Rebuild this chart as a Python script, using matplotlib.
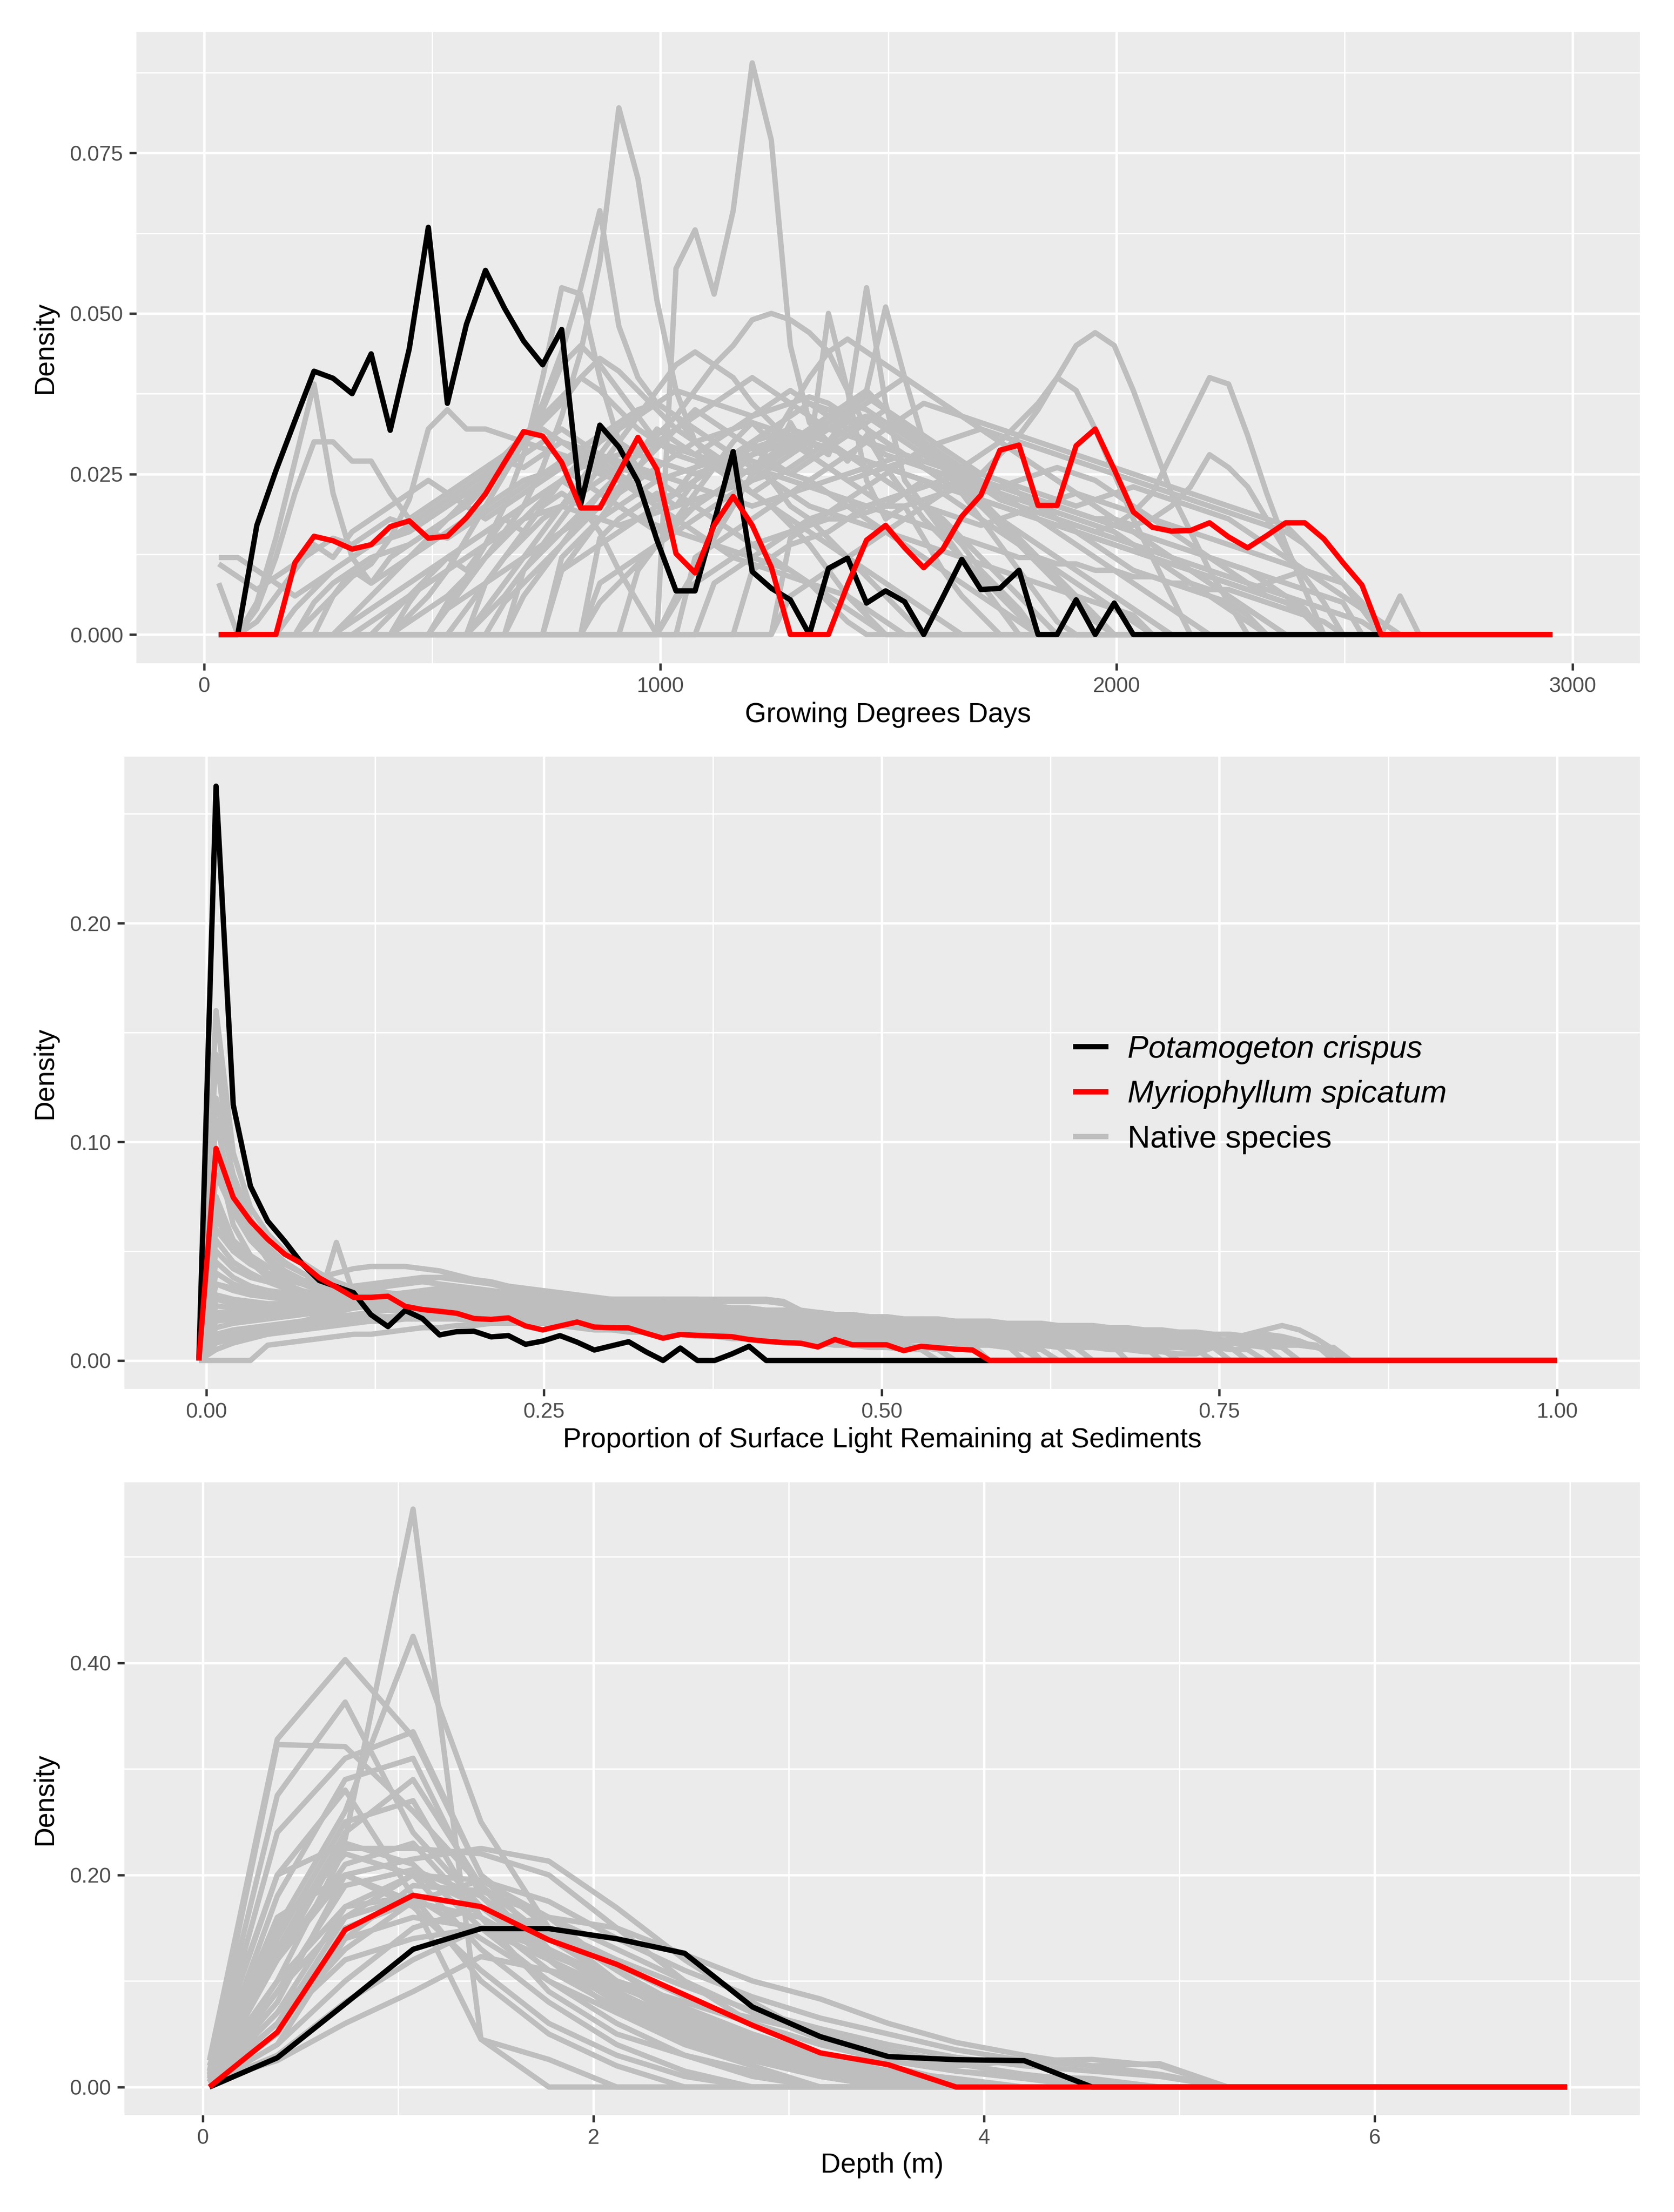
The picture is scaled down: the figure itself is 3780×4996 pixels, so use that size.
import numpy as np
import matplotlib
matplotlib.use('Agg')
import matplotlib.pyplot as plt

plt.rcParams['font.family'] = ['Liberation Sans', 'DejaVu Sans']

# ---------------- data: Growing Degree Days panel (density x 0.001) ----------------
gdd_x_range = (32, 2956)
gdd_n = 71
gdd_crispus = [0, 0, 17.0, 25.5, 33.3, 41.0, 39.9, 37.5, 43.7, 31.8, 44.5, 63.4, 36.0, 48.3, 56.7,
               50.8, 45.7, 42.0, 47.5, 20.3, 32.6, 29.2, 23.8, 14.7, 6.8, 6.8, 17.5, 28.5, 9.8, 7.2,
               5.4, 0, 10.3, 11.9, 4.9, 6.8, 5.1, 0, 5.8, 11.7, 7.0, 7.2, 10.0, 0, 0, 5.4, 0, 4.9, 0,
               0, 0, 0, 0, 0, 0, 0, 0, 0, 0, 0, 0, 0, 0, 0, 0, 0, 0, 0, 0, 0, 0]
gdd_spicatum = [0, 0, 0, 0, 11.2, 15.3, 14.6, 13.3, 14.0, 16.8, 17.7, 15.0, 15.3, 18.2, 21.9, 26.8,
                31.6, 30.9, 26.8, 19.7, 19.7, 25.2, 30.7, 25.7, 12.6, 9.6, 17.0, 21.5, 17.0, 10.5, 0,
                0, 0, 7.7, 14.7, 17.0, 13.5, 10.4, 13.3, 18.4, 21.7, 28.7, 29.5, 20.1, 20.1, 29.4,
                32.0, 25.7, 19.1, 16.7, 16.1, 16.2, 17.4, 15.2, 13.5, 15.4, 17.4, 17.4, 14.9, 11.2,
                7.7, 0, 0, 0, 0, 0, 0, 0, 0, 0, 0]
gdd_native_start = [14, 12, 10, 12, 16, 18, 20, 22, 24, 26, 30, 28, 0, 2, 5, 0, 0, 0, 13, 6, 4, 3,
                    8, 20, 10, 14, 18, 16, 24, 12, 8, 12, 15, 18, 6, 25, 5, 9, 30, 20]
gdd_native = [
    [8, 12, 16, 20, 22, 20, 16, 10, 5, 0, 57, 63, 53, 66, 89, 77, 45, 33, 30, 27, 31, 26, 22, 20, 17, 14, 10, 7, 4, 0],
    [4, 8, 12, 16, 20, 26, 34, 44, 58, 82, 71, 52, 38, 30, 27, 24, 22, 20, 17, 14, 10, 6, 3, 0],
    [3, 6, 10, 15, 20, 25, 30, 36, 44, 54, 66, 48, 40, 36, 34, 30, 28, 25, 22, 24, 20, 18, 15, 12, 9, 6, 3, 0],
    [5, 9, 14, 20, 28, 40, 54, 53, 40, 30, 26, 24, 22, 20, 18, 16, 14, 12, 10, 8, 5, 2, 0],
    [10, 13, 16, 19, 22, 25, 28, 31, 34, 38, 42, 45, 49, 50, 49, 47, 44, 38, 32, 26, 22, 18, 15, 12, 9, 6, 3, 0],
    [12, 15, 18, 20, 22, 24, 22, 26, 28, 25, 30, 27, 33, 28, 50, 38, 24, 18, 20, 15, 10, 6, 3, 0],
    [15, 18, 20, 22, 20, 24, 27, 25, 28, 30, 32, 30, 28, 35, 54, 36, 24, 20, 16, 12, 8, 4, 0],
    [10, 14, 18, 22, 26, 30, 33, 30, 28, 32, 30, 34, 38, 51, 40, 30, 26, 22, 18, 14, 10, 6, 2, 0],
    [6, 8, 10, 12, 14, 15, 16, 17, 18, 18, 19, 20, 20, 21, 22, 23, 25, 28, 31, 35, 40, 45, 47, 45, 38, 30, 22, 16, 10, 5, 0],
    [8, 10, 12, 14, 16, 18, 19, 20, 20, 21, 22, 23, 24, 26, 28, 30, 33, 36, 40, 38, 32, 25, 18, 12, 6, 0],
    [6, 8, 10, 12, 14, 16, 18, 20, 22, 24, 25, 24, 22, 20, 18, 17, 16, 17, 19, 22, 28, 34, 40, 39, 31, 22, 14, 7, 0],
    [10, 12, 14, 15, 16, 18, 20, 21, 22, 23, 24, 25, 24, 23, 22, 21, 20, 19, 18, 18, 17, 18, 20, 23, 28, 26, 23, 18, 13, 9, 5, 0],
    [0, 0, 5, 15, 27, 39, 22, 12, 8, 10, 12, 14, 16, 18, 20, 22, 24, 25, 26, 24, 22, 20, 18, 17, 16, 15, 14, 13, 12, 11, 10, 8, 6, 4, 2, 0],
    [4, 12, 22, 30, 30, 27, 27, 22, 18, 20, 22, 24, 26, 28, 30, 32, 30, 28, 26, 24, 22, 20, 22, 24, 26, 24, 22, 20, 18, 16, 14, 12, 10, 8, 6, 4, 2, 0],
    [3, 6, 9, 11, 15, 21, 32, 35, 32, 32, 31, 30, 29, 28, 27, 25, 24, 22, 20, 18, 16, 14, 12, 11, 10, 9, 8, 7, 6, 4, 2, 0],
    [12, 12, 10, 8, 6, 8, 10, 12, 14, 15, 16, 18, 20, 22, 24, 26, 28, 30, 32, 30, 28, 26, 25, 24, 25, 26, 27, 28, 27, 26, 25, 24, 22, 20, 18, 16, 14, 12, 10, 8, 6, 4, 2, 0],
    [11, 9, 7, 9, 11, 13, 15, 14, 16, 18, 17, 19, 21, 23, 25, 27, 26, 28, 30, 29, 27, 25, 23, 21, 22, 24, 26, 28, 30, 31, 32, 31, 30, 28, 26, 24, 22, 20, 18, 15, 12, 9, 6, 3, 0],
    [8, 0, 2, 6, 10, 14, 12, 16, 18, 20, 22, 24, 22, 20, 18, 20, 22, 24, 26, 28, 26, 24, 22, 20, 18, 20, 22, 24, 26, 28, 30, 28, 26, 24, 22, 20, 22, 24, 22, 20, 18, 16, 14, 12, 10, 8, 6, 4, 2, 0],
    [0, 4, 8, 12, 16, 20, 24, 28, 32, 34, 36, 34, 32, 30, 28, 30, 32, 34, 36, 35, 34, 32, 30, 28, 26, 24, 22, 20, 18, 16, 14, 12, 10, 8, 6, 4, 2, 0],
    [0, 3, 6, 9, 12, 15, 18, 21, 24, 27, 30, 33, 36, 40, 43, 41, 38, 35, 32, 30, 28, 26, 25, 27, 29, 31, 33, 35, 37, 35, 33, 30, 27, 24, 21, 18, 15, 12, 9, 6, 3, 0],
    [0, 5, 8, 10, 12, 13, 14, 16, 18, 20, 23, 26, 30, 35, 42, 45, 42, 38, 34, 30, 28, 27, 26, 27, 28, 29, 30, 31, 32, 33, 34, 33, 32, 30, 28, 26, 24, 22, 20, 18, 16, 14, 12, 10, 8, 6, 4, 2, 0],
    [0, 4, 7, 10, 12, 14, 15, 17, 19, 21, 23, 25, 28, 31, 34, 37, 40, 38, 35, 32, 30, 29, 28, 30, 32, 34, 36, 38, 36, 34, 32, 30, 28, 27, 26, 25, 24, 23, 22, 21, 20, 19, 18, 17, 16, 14, 12, 10, 8, 6, 4, 2, 0],
    [2, 4, 6, 8, 10, 12, 14, 16, 18, 19, 20, 19, 18, 17, 18, 19, 20, 21, 22, 23, 24, 25, 24, 23, 22, 21, 20, 19, 18, 17, 16, 15, 14, 13, 12, 12, 11, 11, 10, 10, 9, 9, 8, 8, 7, 7, 6, 5, 4, 3, 2, 0],
    [8, 10, 12, 14, 16, 18, 20, 22, 24, 26, 28, 30, 32, 34, 32, 30, 28, 26, 24, 22, 21, 20, 19, 18, 17, 16, 15, 14, 13, 12, 11, 10, 9, 8, 7, 8, 9, 10, 9, 8, 4, 0, 6, 0],
    [2, 4, 6, 9, 12, 15, 18, 21, 24, 27, 30, 32, 34, 36, 38, 37, 36, 35, 34, 35, 36, 37, 36, 34, 32, 30, 28, 26, 24, 22, 20, 18, 16, 14, 12, 10, 8, 6, 4, 2, 0],
    [3, 6, 10, 14, 18, 22, 26, 30, 34, 38, 42, 44, 42, 40, 36, 33, 30, 32, 34, 36, 38, 35, 32, 29, 26, 23, 20, 17, 14, 11, 8, 5, 2, 0],
    [10, 14, 18, 22, 26, 30, 32, 34, 36, 38, 40, 38, 36, 34, 32, 34, 36, 38, 40, 38, 36, 34, 32, 30, 28, 26, 24, 22, 20, 18, 16, 14, 12, 10, 8, 6, 4, 2, 0],
    [6, 10, 14, 18, 22, 20, 18, 16, 18, 20, 22, 24, 26, 28, 30, 32, 34, 36, 35, 33, 31, 29, 27, 25, 23, 21, 20, 19, 18, 17, 16, 15, 14, 13, 12, 11, 10, 9, 8, 7, 6, 5, 4, 3, 2, 0],
    [5, 10, 15, 20, 25, 30, 35, 40, 44, 46, 44, 42, 40, 38, 36, 34, 32, 30, 28, 26, 24, 22, 20, 18, 16, 14, 12, 10, 8, 6, 4, 2, 0],
    [4, 6, 8, 10, 12, 14, 16, 18, 20, 22, 24, 26, 28, 30, 31, 32, 33, 32, 31, 30, 29, 28, 27, 26, 25, 24, 23, 22, 21, 20, 19, 18, 17, 16, 15, 14, 13, 12, 11, 10, 9, 8, 7, 6, 5, 3, 0],
    [0, 3, 6, 9, 12, 14, 16, 18, 20, 22, 24, 26, 27, 28, 29, 30, 29, 28, 27, 28, 29, 30, 31, 30, 29, 28, 27, 26, 25, 24, 23, 22, 21, 20, 19, 18, 17, 16, 15, 14, 13, 12, 11, 10, 9, 8, 7, 6, 5, 4, 0],
    [0, 4, 8, 12, 15, 18, 20, 22, 24, 26, 28, 27, 26, 25, 26, 27, 28, 29, 30, 31, 32, 31, 30, 29, 28, 27, 26, 25, 24, 23, 22, 21, 20, 19, 18, 17, 16, 15, 14, 13, 12, 11, 10, 9, 8, 7, 6, 5, 0],
    [5, 8, 11, 14, 17, 20, 23, 26, 29, 32, 35, 33, 31, 29, 27, 25, 27, 29, 31, 33, 35, 33, 31, 29, 27, 25, 24, 23, 22, 21, 20, 21, 22, 23, 22, 21, 20, 19, 18, 16, 14, 12, 10, 8, 6, 4, 0],
    [10, 12, 14, 16, 18, 20, 22, 24, 26, 24, 22, 24, 26, 28, 30, 32, 34, 32, 30, 28, 26, 24, 22, 23, 24, 25, 26, 25, 24, 22, 20, 18, 16, 14, 12, 10, 8, 6, 5, 4, 0],
    [0, 2, 4, 6, 8, 10, 12, 14, 16, 18, 20, 22, 24, 26, 28, 27, 26, 25, 24, 23, 22, 21, 20, 21, 22, 23, 24, 25, 26, 27, 28, 27, 26, 25, 24, 23, 22, 21, 20, 19, 18, 17, 16, 15, 14, 13, 12, 11, 10, 8, 6, 4, 0],
    [12, 14, 16, 18, 20, 22, 24, 26, 28, 30, 32, 34, 36, 35, 34, 33, 32, 31, 30, 29, 28, 27, 26, 25, 24, 23, 22, 21, 20, 19, 18, 17, 14, 11, 8, 5, 0],
    [0, 6, 10, 8, 12, 14, 16, 15, 17, 19, 21, 23, 25, 27, 29, 31, 33, 35, 36, 34, 32, 30, 28, 26, 24, 22, 20, 19, 18, 17, 16, 15, 14, 13, 12, 11, 10, 9, 8, 7, 6, 5, 4, 3, 0],
    [0, 5, 9, 12, 10, 14, 18, 16, 20, 24, 22, 26, 30, 28, 32, 30, 28, 26, 28, 30, 32, 30, 28, 26, 24, 25, 26, 27, 28, 27, 26, 25, 24, 22, 20, 18, 16, 14, 12, 10, 9, 8, 7, 6, 5, 3, 0],
    [15, 17, 19, 21, 23, 25, 27, 29, 30, 31, 32, 31, 30, 29, 28, 27, 26, 25, 24, 23, 22, 21, 20, 19, 18, 17, 16, 14, 11, 8, 5, 0],
    [5, 8, 11, 14, 17, 20, 22, 24, 26, 28, 30, 32, 30, 28, 26, 24, 22, 20, 19, 18, 17, 18, 19, 20, 21, 22, 21, 20, 19, 18, 17, 16, 15, 14, 13, 12, 11, 10, 8, 6, 4, 2, 0],
]

# ---------------- data: light panel (density x 0.001) ----------------
light_x_range = (-0.0055, 1.0)
light_n = 80
light_crispus = [0, 262.7, 116.9, 79.7, 63.8, 54.5, 44.3, 36.6, 33.8, 31.0, 21.0, 15.5, 22.9, 19.2,
                 11.7, 13.2, 13.4, 10.8, 11.4, 7.4, 8.9, 11.4, 8.4, 4.8, 6.7, 8.6, 4.0, 0, 5.7, 0, 0,
                 3.0, 6.5, 0]
light_spicatum = [0, 97.0, 74.6, 63.8, 55.5, 48.6, 44.3, 37.8, 33.5, 28.9, 28.9, 29.4, 24.8, 23.3,
                  22.5, 21.6, 19.2, 18.8, 19.5, 15.8, 14.0, 15.8, 17.6, 15.3, 15.0, 14.9, 12.5, 10.2,
                  11.9, 11.5, 11.2, 10.9, 9.6, 8.8, 8.2, 7.9, 6.2, 9.6, 7.2, 7.2, 7.2, 4.5, 6.5, 5.8,
                  5.2, 4.8, 0]
light_native = [
    [0, 160, 95, 70, 58, 50, 45, 40, 36, 33, 31, 29, 28, 27, 26, 25, 24, 23, 22, 22, 21, 21, 20, 20, 20, 19, 19, 18, 18, 17, 17, 16, 16, 15, 15, 14, 14, 13, 13, 12, 12, 11, 11, 10, 10, 9, 9, 8, 8, 7, 7, 6, 0],
    [0, 120, 85, 65, 52, 45, 40, 36, 33, 31, 30, 29, 28, 27, 27, 26, 26, 25, 25, 24, 24, 23, 23, 22, 22, 21, 21, 20, 20, 19, 19, 18, 18, 17, 17, 16, 16, 15, 15, 14, 14, 13, 13, 12, 12, 11, 11, 10, 10, 9, 9, 8, 8, 7, 7, 6, 0],
    [0, 110, 72, 60, 50, 44, 40, 37, 35, 33, 32, 31, 30, 30, 29, 29, 28, 28, 28, 27, 27, 27, 26, 26, 26, 25, 25, 25, 24, 24, 23, 22, 21, 20, 19, 18, 17, 16, 15, 14, 13, 12, 11, 10, 9, 8, 7, 6, 5, 0],
    [0, 85, 68, 55, 47, 41, 37, 34, 32, 30, 29, 28, 27, 26, 26, 25, 25, 24, 24, 23, 23, 22, 22, 21, 21, 20, 20, 19, 19, 18, 18, 17, 17, 16, 16, 15, 15, 14, 14, 13, 13, 12, 12, 11, 11, 10, 10, 9, 9, 8, 8, 7, 7, 6, 6, 5, 5, 0],
    [0, 70, 55, 48, 43, 39, 36, 34, 32, 31, 30, 29, 28, 28, 27, 27, 26, 26, 25, 25, 24, 24, 23, 23, 22, 22, 21, 21, 20, 20, 19, 19, 18, 18, 17, 17, 16, 16, 15, 15, 14, 14, 13, 13, 12, 12, 11, 11, 10, 10, 9, 9, 8, 8, 7, 7, 6, 6, 5, 0],
    [0, 60, 50, 44, 40, 38, 36, 35, 34, 34, 35, 36, 37, 38, 38, 37, 36, 35, 34, 33, 32, 31, 30, 29, 28, 27, 26, 25, 24, 23, 22, 21, 20, 19, 18, 17, 16, 15, 14, 13, 12, 11, 10, 9, 8, 7, 0],
    [0, 50, 42, 38, 36, 35, 36, 38, 40, 42, 43, 43, 43, 42, 41, 39, 37, 35, 33, 32, 31, 30, 29, 28, 28, 27, 27, 26, 26, 25, 25, 24, 24, 23, 23, 21, 20, 19, 18, 17, 16, 15, 14, 13, 12, 11, 10, 9, 8, 0],
    [0, 45, 38, 34, 32, 31, 30, 30, 29, 29, 29, 30, 31, 32, 33, 32, 31, 30, 29, 28, 27, 28, 29, 28, 27, 26, 27, 28, 27, 26, 25, 24, 23, 22, 21, 20, 19, 18, 17, 16, 16, 15, 15, 14, 14, 13, 13, 12, 12, 11, 11, 10, 10, 9, 9, 8, 8, 7, 7, 8, 10, 12, 14, 16, 14, 10, 5, 0],
    [0, 40, 35, 32, 30, 29, 28, 28, 54, 30, 29, 28, 27, 27, 26, 26, 25, 25, 24, 24, 23, 23, 22, 22, 21, 21, 20, 20, 19, 19, 18, 18, 17, 17, 16, 16, 15, 15, 14, 14, 13, 13, 12, 11, 10, 9, 8, 7, 6, 0],
    [0, 35, 32, 30, 29, 28, 28, 28, 28, 28, 28, 28, 28, 28, 28, 27, 27, 27, 27, 26, 26, 26, 26, 26, 25, 25, 25, 25, 24, 24, 24, 24, 23, 23, 22, 21, 20, 19, 18, 17, 16, 15, 14, 13, 12, 11, 10, 9, 8, 7, 6, 0],
    [0, 30, 28, 27, 26, 26, 26, 26, 26, 26, 26, 26, 26, 26, 25, 25, 25, 25, 25, 25, 24, 24, 24, 24, 24, 23, 23, 23, 23, 22, 22, 22, 21, 21, 20, 20, 19, 19, 18, 18, 17, 17, 16, 16, 15, 15, 14, 14, 13, 13, 12, 12, 11, 11, 10, 10, 9, 9, 8, 7, 6, 0],
    [0, 25, 24, 24, 24, 24, 24, 25, 25, 25, 26, 26, 26, 26, 26, 25, 25, 25, 25, 24, 24, 24, 24, 23, 23, 23, 23, 22, 22, 22, 22, 21, 21, 21, 20, 20, 19, 19, 18, 18, 17, 17, 16, 16, 15, 15, 14, 14, 13, 13, 12, 12, 11, 11, 10, 10, 9, 8, 7, 6, 0],
    [0, 20, 21, 22, 22, 23, 23, 24, 24, 25, 25, 25, 25, 25, 25, 25, 25, 24, 24, 24, 24, 24, 23, 23, 23, 23, 22, 22, 22, 22, 21, 21, 21, 20, 20, 20, 19, 19, 19, 18, 18, 17, 17, 16, 16, 15, 15, 14, 14, 13, 13, 12, 12, 11, 11, 10, 10, 9, 9, 8, 8, 7, 7, 6, 0],
    [0, 15, 17, 18, 19, 20, 21, 22, 23, 24, 25, 26, 27, 27, 27, 27, 27, 27, 26, 26, 26, 26, 25, 25, 25, 25, 24, 24, 24, 23, 23, 23, 22, 22, 22, 21, 21, 20, 20, 19, 19, 18, 18, 17, 17, 16, 16, 15, 15, 14, 14, 13, 13, 12, 12, 11, 11, 10, 10, 9, 9, 8, 8, 7, 7, 6, 6, 0],
    [0, 10, 12, 13, 14, 15, 16, 17, 18, 19, 19, 20, 20, 20, 20, 20, 20, 20, 20, 20, 20, 20, 20, 20, 20, 19, 19, 19, 19, 19, 18, 18, 18, 18, 17, 17, 17, 16, 16, 16, 15, 15, 14, 14, 13, 13, 12, 12, 11, 11, 10, 10, 9, 9, 8, 8, 7, 7, 6, 6, 5, 5, 0],
    [0, 0, 0, 0, 7, 8, 9, 10, 11, 12, 12, 13, 14, 15, 15, 16, 16, 17, 17, 17, 17, 17, 17, 17, 17, 17, 17, 16, 16, 16, 16, 15, 15, 15, 15, 14, 14, 14, 14, 13, 13, 13, 12, 12, 12, 11, 11, 11, 10, 10, 10, 9, 9, 8, 8, 7, 7, 6, 5, 0],
    [0, 65, 52, 45, 40, 37, 35, 33, 32, 31, 30, 29, 28, 27, 26, 25, 24, 23, 22, 21, 20, 19, 18, 17, 16, 15, 14, 13, 13, 12, 12, 11, 11, 10, 10, 9, 9, 8, 8, 7, 7, 6, 6, 5, 0],
    [0, 55, 45, 40, 36, 33, 31, 30, 29, 28, 27, 26, 25, 24, 23, 22, 21, 20, 19, 18, 17, 16, 15, 14, 14, 13, 13, 12, 12, 11, 11, 10, 10, 9, 9, 8, 8, 7, 7, 6, 6, 5, 5, 0],
    [0, 95, 62, 48, 40, 35, 32, 30, 28, 26, 24, 23, 22, 21, 20, 19, 19, 18, 18, 17, 17, 16, 16, 15, 15, 15, 14, 14, 14, 13, 13, 13, 12, 12, 12, 11, 11, 11, 10, 10, 10, 9, 9, 8, 8, 7, 7, 6, 6, 5, 0],
    [0, 140, 80, 58, 46, 40, 35, 32, 30, 28, 27, 26, 25, 24, 24, 23, 23, 22, 22, 21, 21, 20, 20, 19, 19, 18, 18, 17, 17, 16, 16, 15, 15, 14, 14, 13, 13, 12, 12, 11, 11, 10, 10, 9, 9, 8, 8, 7, 0],
    [0, 12, 14, 15, 16, 17, 18, 19, 20, 21, 22, 23, 24, 25, 26, 27, 28, 28, 28, 28, 28, 28, 28, 28, 28, 28, 28, 28, 28, 28, 28, 28, 28, 28, 27, 23, 22, 21, 20, 20, 19, 19, 18, 18, 17, 17, 16, 16, 15, 15, 15, 14, 14, 14, 13, 13, 12, 11, 10, 9, 8, 7, 6, 0],
    [0, 18, 19, 20, 21, 22, 24, 26, 28, 30, 32, 34, 36, 37, 38, 38, 37, 36, 34, 32, 30, 28, 27, 26, 26, 27, 27, 26, 26, 25, 25, 24, 24, 23, 23, 22, 22, 21, 21, 20, 20, 19, 19, 18, 18, 17, 17, 16, 16, 15, 15, 14, 14, 13, 13, 12, 12, 11, 11, 10, 9, 8, 7, 6, 0],
    [0, 8, 10, 12, 14, 16, 18, 20, 22, 24, 25, 26, 26, 26, 25, 25, 24, 24, 23, 23, 22, 22, 21, 21, 20, 20, 19, 19, 18, 18, 17, 17, 16, 16, 15, 15, 14, 14, 13, 13, 12, 12, 11, 11, 10, 10, 9, 9, 8, 8, 7, 6, 0],
    [0, 28, 26, 25, 24, 23, 22, 21, 21, 20, 20, 20, 19, 19, 19, 19, 18, 18, 18, 18, 17, 17, 17, 17, 16, 16, 16, 16, 15, 15, 15, 15, 14, 14, 14, 13, 13, 13, 12, 12, 12, 11, 11, 10, 10, 9, 9, 8, 8, 7, 7, 6, 6, 5, 5, 4, 4, 3, 3, 6, 9, 11, 12, 11, 9, 6, 3, 0],
    [0, 75, 55, 45, 38, 34, 31, 29, 27, 26, 25, 24, 23, 22, 21, 20, 20, 19, 19, 18, 18, 17, 17, 16, 16, 15, 15, 14, 14, 13, 13, 12, 12, 11, 11, 10, 10, 9, 9, 8, 8, 7, 6, 5, 0],
    [0, 22, 22, 23, 23, 24, 25, 26, 27, 28, 29, 30, 31, 31, 31, 30, 30, 29, 29, 28, 28, 28, 27, 27, 27, 26, 26, 26, 25, 25, 24, 24, 23, 23, 22, 22, 21, 21, 20, 20, 19, 19, 18, 18, 17, 17, 16, 16, 15, 15, 14, 14, 13, 13, 12, 12, 11, 11, 10, 10, 9, 9, 8, 8, 7, 6, 5, 0],
    [0, 5, 8, 10, 12, 13, 14, 15, 16, 17, 18, 18, 19, 19, 20, 20, 20, 20, 20, 20, 20, 20, 20, 19, 19, 19, 19, 18, 18, 18, 18, 17, 17, 17, 16, 16, 16, 15, 15, 15, 14, 14, 13, 13, 12, 12, 11, 11, 10, 10, 9, 9, 8, 8, 0],
    [0, 35, 33, 31, 30, 30, 30, 30, 31, 32, 33, 34, 35, 36, 35, 34, 33, 32, 31, 30, 29, 29, 28, 28, 28, 28, 28, 28, 28, 28, 27, 27, 27, 27, 26, 22, 22, 21, 21, 20, 20, 19, 19, 19, 18, 18, 18, 17, 17, 17, 16, 16, 16, 15, 15, 14, 14, 13, 13, 12, 12, 11, 10, 9, 8, 7, 0],
]

# ---------------- data: depth panel (density x 0.001) ----------------
depth_x_range = (0.034, 6.986)
depth_n = 21
depth_crispus = [0, 27.6, 78.5, 129.9, 149.4, 149.4, 139.8, 126.1, 75.5, 47.5, 28.7, 25.8, 24.9, 0]
depth_spicatum = [0, 51.7, 148.3, 180.8, 170.1, 138.7, 115.7, 87.0, 58.2, 32.2, 21.1, 0]
depth_native = [
    [20, 120, 234, 545, 45, 0],
    [10, 150, 260, 425, 250, 150, 100, 60, 30, 10, 0],
    [25, 328, 403, 330, 200, 150, 110, 70, 40, 20, 5, 0],
    [15, 323, 321, 260, 190, 140, 100, 65, 40, 20, 5, 0],
    [12, 275, 363, 240, 170, 120, 85, 55, 30, 15, 0],
    [8, 240, 310, 335, 200, 130, 90, 60, 35, 15, 0],
    [5, 180, 290, 310, 180, 120, 80, 50, 30, 12, 0],
    [5, 140, 250, 270, 160, 110, 75, 50, 30, 15, 5, 0],
    [5, 100, 225, 225, 220, 200, 150, 100, 60, 30, 10, 0],
    [5, 80, 200, 215, 225, 213, 169, 120, 80, 45, 20, 5, 0],
    [5, 90, 190, 205, 180, 130, 95, 70, 45, 25, 10, 0],
    [5, 70, 170, 200, 195, 175, 140, 110, 85, 65, 50, 35, 25, 20, 22, 0],
    [5, 60, 160, 180, 170, 150, 120, 95, 72, 55, 40, 28, 20, 15, 10, 0],
    [3, 50, 150, 175, 160, 125, 100, 80, 60, 40, 25, 15, 10, 8, 0],
    [3, 40, 140, 190, 185, 160, 130, 100, 70, 45, 30, 20, 25, 26, 20, 0],
    [10, 120, 210, 230, 160, 90, 50, 30, 15, 0],
    [15, 200, 280, 180, 100, 50, 20, 0],
    [8, 160, 200, 170, 110, 60, 30, 10, 0],
    [5, 120, 200, 175, 45, 26, 0],
    [3, 60, 120, 140, 150, 130, 100, 70, 45, 25, 12, 0],
    [5, 25, 60, 90, 123, 110, 95, 80, 65, 50, 35, 22, 12, 5, 0],
    [3, 30, 80, 120, 150, 160, 150, 125, 100, 83, 60, 42, 30, 20, 12, 0],
    [5, 150, 220, 200, 130, 80, 40, 15, 0],
    [10, 100, 170, 180, 140, 100, 70, 45, 25, 10, 0],
    [5, 130, 240, 290, 190, 120, 70, 40, 20, 0],
    [5, 90, 160, 200, 170, 120, 80, 50, 25, 10, 0],
    [5, 70, 140, 160, 150, 120, 90, 60, 40, 25, 15, 8, 0],
    [20, 200, 230, 210, 150, 100, 60, 30, 10, 0],
    [5, 60, 130, 175, 195, 160, 110, 75, 50, 30, 15, 5, 0],
    [3, 40, 100, 150, 170, 145, 115, 85, 60, 40, 25, 15, 8, 0],
]

legend_labels = ['Potamogeton crispus', 'Myriophyllum spicatum', 'Native species']
x_titles = ['Growing Degrees Days', 'Proportion of Surface Light Remaining at Sediments', 'Depth (m)']

# ---------------- helpers ----------------
def full(vals, n, start=0):
    arr = np.zeros(n)
    v = np.asarray(vals, dtype=float)[: n - start]
    arr[start:start + len(v)] = v
    return arr * 0.001

W, H, DPI = 3780, 4996, 300
fig = plt.figure(figsize=(W / DPI, H / DPI), dpi=DPI)
fig.patch.set_facecolor('white')

def px_axes(x0, y0, x1, y1):
    return fig.add_axes([x0 / W, 1 - y1 / H, (x1 - x0) / W, (y1 - y0) / H])

GREY, BLACK, RED = '#BEBEBE', '#000000', '#FF0000'
LW = 2.9

def style(ax, xlim, ylim, xmaj, xlab, xmin, ymaj, ylab, ymin):
    ax.set_facecolor('#EBEBEB')
    for s in ax.spines.values():
        s.set_visible(False)
    ax.set_xlim(xlim)
    ax.set_ylim(ylim)
    ax.set_xticks(xmaj)
    ax.set_xticklabels(xlab)
    ax.set_xticks(xmin, minor=True)
    ax.set_yticks(ymaj)
    ax.set_yticklabels(ylab)
    ax.set_yticks(ymin, minor=True)
    ax.set_axisbelow(True)
    ax.grid(which='major', color='white', lw=1.3)
    ax.grid(which='minor', color='white', lw=0.75)
    ax.tick_params(which='major', length=3.8, width=1.3, color='#333333',
                   labelsize=11.6, labelcolor='#4D4D4D', pad=3.4)
    ax.tick_params(which='minor', length=0)

def draw(ax, x, natives, crispus, spicatum, n, starts=None):
    hg = None
    for i, g in enumerate(natives):
        s = 0 if starts is None else starts[i]
        hg, = ax.plot(x, full(g, n, s), color=GREY, lw=LW, solid_joinstyle='round', solid_capstyle='butt')
    hb, = ax.plot(x, full(crispus, n), color=BLACK, lw=LW, solid_joinstyle='round', solid_capstyle='butt')
    hr, = ax.plot(x, full(spicatum, n), color=RED, lw=LW, solid_joinstyle='round', solid_capstyle='butt')
    return hb, hr, hg

# ---------------- panel 1 ----------------
ax1 = px_axes(308, 71.6, 3703, 1498)
x1 = np.linspace(gdd_x_range[0], gdd_x_range[1], gdd_n)
draw(ax1, x1, gdd_native, gdd_crispus, gdd_spicatum, gdd_n, gdd_native_start)
style(ax1, (-148.5, 3147.6), (-0.00447, 0.09386),
      [0, 1000, 2000, 3000], ['0', '1000', '2000', '3000'], [500, 1500, 2500],
      [0, 0.025, 0.05, 0.075], ['0.000', '0.025', '0.050', '0.075'], [0.0125, 0.0375, 0.0625, 0.0875])

# ---------------- panel 2 ----------------
ax2 = px_axes(281, 1709, 3703, 3137)
x2 = np.linspace(light_x_range[0], light_x_range[1], light_n)
hb, hr, hg = draw(ax2, x2, light_native, light_crispus, light_spicatum, light_n)
style(ax2, (-0.0606, 1.0613), (-0.0130, 0.2762),
      [0, 0.25, 0.5, 0.75, 1.0], ['0.00', '0.25', '0.50', '0.75', '1.00'], [0.125, 0.375, 0.625, 0.875],
      [0, 0.1, 0.2], ['0.00', '0.10', '0.20'], [0.05, 0.15, 0.25])

leg = ax2.legend(handles=[hb, hr, hg], labels=legend_labels, loc='upper left',
                 bbox_to_anchor=(2423 / W, 1 - 2338 / H), bbox_transform=fig.transFigure,
                 frameon=False, fontsize=17, handlelength=1.13, handletextpad=0.6,
                 labelspacing=0.5, borderpad=0, borderaxespad=0)
for t in leg.get_texts()[:2]:
    t.set_fontstyle('italic')

# ---------------- panel 3 ----------------
ax3 = px_axes(281, 3348, 3703, 4777)
x3 = np.linspace(depth_x_range[0], depth_x_range[1], depth_n)
draw(ax3, x3, depth_native, depth_crispus, depth_spicatum, depth_n)
style(ax3, (-0.401, 7.358), (-0.0264, 0.5702),
      [0, 2, 4, 6], ['0', '2', '4', '6'], [1, 3, 5, 7],
      [0, 0.2, 0.4], ['0.00', '0.20', '0.40'], [0.1, 0.3, 0.5])

# ---------------- axis titles ----------------
panels = [((308, 71.6, 3703, 1498), 1615), ((281, 1709, 3703, 3137), 3252), ((281, 3348, 3703, 4777), 4890)]
for (box, ty), title in zip(panels, x_titles):
    x0, y0, x1_, y1_ = box
    fig.text(((x0 + x1_) / 2) / W, 1 - ty / H, title, ha='center', va='center', fontsize=15, color='black')
    fig.text(101 / W, 1 - ((y0 + y1_) / 2) / H, 'Density', ha='center', va='center',
             rotation=90, fontsize=15, color='black')

fig.savefig('out.png', dpi=DPI)
